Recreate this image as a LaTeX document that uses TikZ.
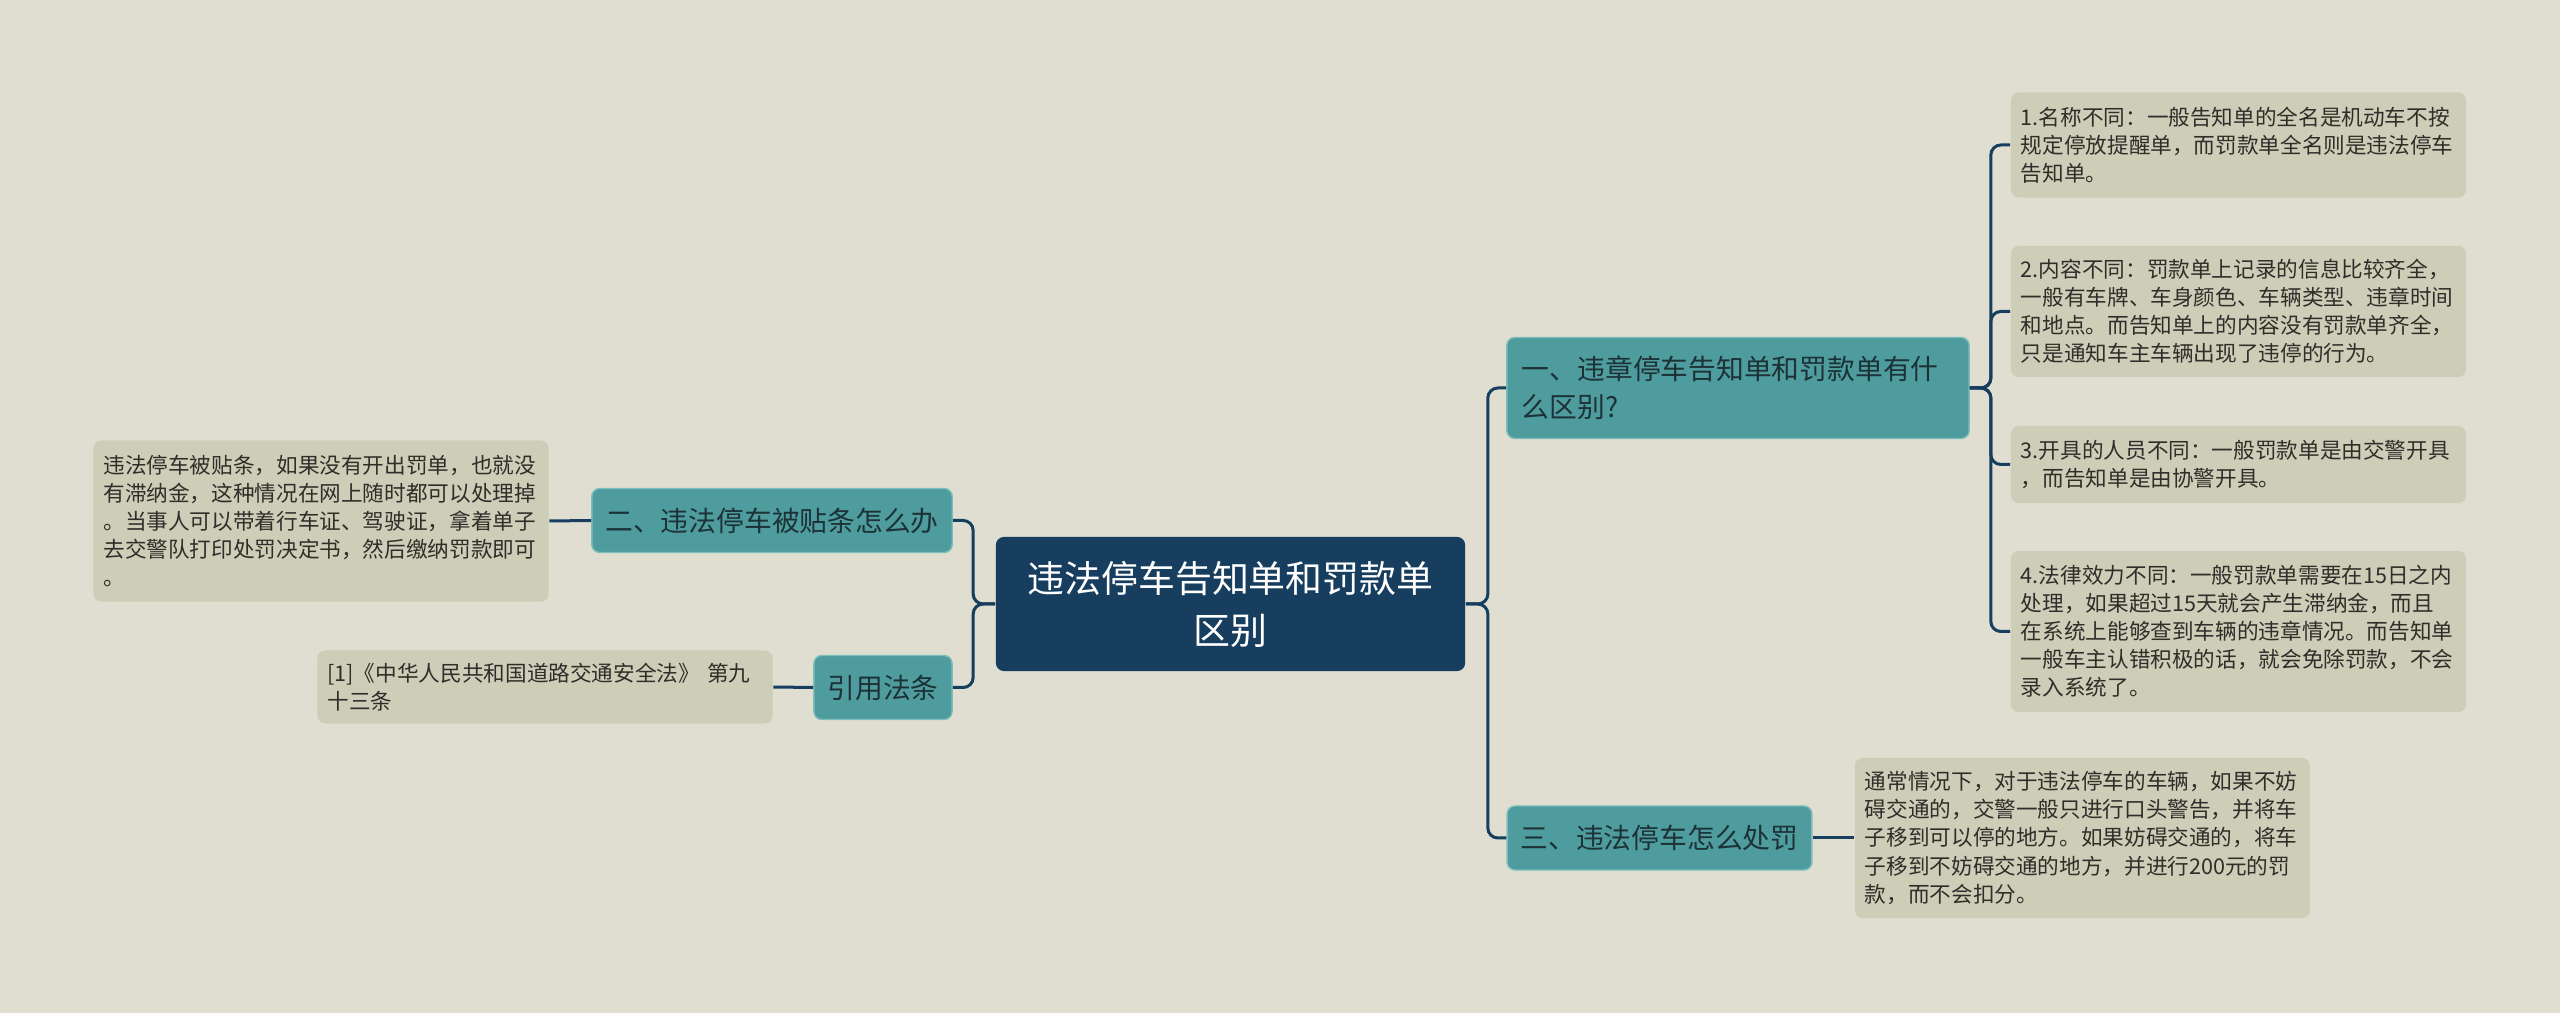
\documentclass[tikz,border=0pt]{standalone}
\usepackage{fontspec}
\setmainfont{Noto Sans CJK SC}
\definecolor{bgcol}{HTML}{DFDED0}
\definecolor{rootblue}{HTML}{173E5E}
\definecolor{topicteal}{HTML}{4E9C9E}
\definecolor{topicedge}{HTML}{7DBDBB}
\definecolor{topictext}{HTML}{1D3236}
\definecolor{notefill}{HTML}{CECDB7}
\definecolor{notetext}{HTML}{2E2E2A}
\definecolor{linkblue}{HTML}{173E5E}
\tikzstyle{centerbox} = [rectangle, rounded corners=0.08cm, fill=rootblue, text=white, align=center, inner sep=0pt, font=\fontsize{10.5pt}{14.8pt}\selectfont]
\tikzstyle{topicbox} = [rectangle, rounded corners=0.08cm, fill=topicteal, draw=topicedge, line width=0.4pt, text=topictext, align=left, inner xsep=0.135cm, inner ysep=0pt, minimum height=0.64cm, font=\fontsize{7.9pt}{10.8pt}\selectfont]
\tikzstyle{notebox} = [rectangle, rounded corners=0.08cm, fill=notefill, text=notetext, align=left, text width=4.35cm, inner xsep=0.1cm, inner ysep=0pt, font=\fontsize{6.15pt}{7.97pt}\selectfont]
\tikzstyle{conn} = [line width=0.03cm, draw=linkblue, rounded corners=0.1cm]

\begin{document}
\begin{tikzpicture}[x=0.01cm, y=-0.01cm]
        \fill[bgcol] (0,0) rectangle (2560,1013);

        % centre
        \node (root) [centerbox, minimum width=4.69cm, minimum height=1.34cm] at (1230.5,604) {违法停车告知单和罚款单\\区别};

        % right side
        \node (diff) [topicbox, text width=4.32cm, inner xsep=0.15cm, minimum height=1.01cm] at (1738,388) {一、违章停车告知单和罚款单有什\\么区别?};
        \node (fine) [topicbox] at (1659.5,838) {三、违法停车怎么处罚};

        \node (d1) [notebox, minimum height=1.05cm] at (2238.5,145) {1.名称不同：一般告知单的全名是机动车不按\\规定停放提醒单，而罚款单全名则是违法停车\\告知单。};
        \node (d2) [notebox, minimum height=1.31cm] at (2238.5,311.5) {2.内容不同：罚款单上记录的信息比较齐全，\\一般有车牌、车身颜色、车辆类型、违章时间\\和地点。而告知单上的内容没有罚款单齐全，\\只是通知车主车辆出现了违停的行为。};
        \node (d3) [notebox, minimum height=0.77cm] at (2238.5,464.5) {3.开具的人员不同：一般罚款单是由交警开具\\，而告知单是由协警开具。};
        \node (d4) [notebox, minimum height=1.61cm] at (2238.5,631.5) {4.法律效力不同：一般罚款单需要在15日之内\\处理，如果超过15天就会产生滞纳金，而且\\在系统上能够查到车辆的违章情况。而告知单\\一般车主认错积极的话，就会免除罚款，不会\\录入系统了。};
        \node (f1) [notebox, minimum height=1.6cm] at (2082.5,838) {通常情况下，对于违法停车的车辆，如果不妨\\碍交通的，交警一般只进行口头警告，并将车\\子移到可以停的地方。如果妨碍交通的，将车\\子移到不妨碍交通的地方，并进行200元的罚\\款，而不会扣分。};

        % left side
        \node (ticket) [topicbox] at (772,520.5) {二、违法停车被贴条怎么办};
        \node (law) [topicbox] at (883,687.5) {引用法条};

        \node (t1) [notebox, minimum height=1.61cm] at (321,521) {违法停车被贴条，如果没有开出罚单，也就没\\有滞纳金，这种情况在网上随时都可以处理掉\\。当事人可以带着行车证、驾驶证，拿着单子\\去交警队打印处罚决定书，然后缴纳罚款即可\\。};
        \node (l1) [notebox, minimum height=0.73cm] at (545,687) {[1]《中华人民共和国道路交通安全法》 第九\\十三条};

        \draw [conn] (root.east) -- ++(22,0) |- (diff.west);
        \draw [conn] (root.east) -- ++(22,0) |- (fine.west);
        \draw [conn] (root.west) -- ++(-22,0) |- (ticket.east);
        \draw [conn] (root.west) -- ++(-22,0) |- (law.east);
        \draw [conn] (diff.east) -- ++(21,0) |- (d1.west);
        \draw [conn] (diff.east) -- ++(21,0) |- (d2.west);
        \draw [conn] (diff.east) -- ++(21,0) |- (d3.west);
        \draw [conn] (diff.east) -- ++(21,0) |- (d4.west);
        \draw [conn] (fine.east) -- (f1.west);
        \draw [conn] (ticket.west) -- (t1.east);
        \draw [conn] (law.west) -- (l1.east);
\end{tikzpicture}
\end{document}
